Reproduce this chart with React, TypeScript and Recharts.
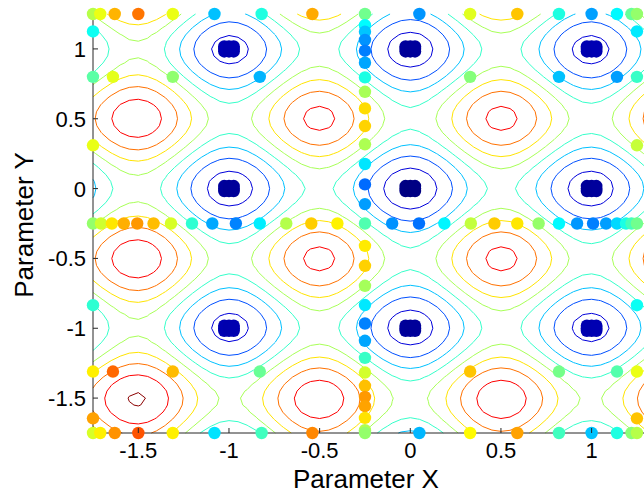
import { ComposedChart, Line, Scatter, XAxis, YAxis, Label } from 'recharts';

// axis set-up
const xDomain: [number, number] = [-1.75, 1.3];
const yDomain: [number, number] = [-1.75, 1.25];
const xTicks = [-1.5, -1, -0.5, 0, 0.5, 1];
const yTicks = [-1.5, -1, -0.5, 0, 0.5, 1];

// contour levels of the objective, and the colour scale (jet) limits
const contourLevels = [4, 9, 14, 19, 24, 29, 34, 39, 44];
const colourLimits = [0, 44.5];
const gridStep = 0.05;

const boundaryRowY = [1.25, -1.75];
const boundaryRowX = [-1.75, -1.71, -1.63, -1.5, -1.31, -1.08, -0.82, -0.54, 0.05, 0.33, 0.59, 0.82, 1.0, 1.14, 1.22, 1.25];
const middleRowY = [0.8, -1.31];
const middleRowX = [-1.75, -1.64, -1.31, -0.83, 0.33, 0.82, 1.14, 1.25];
const sideColX = [-1.75, 1.25];
const sideColY = [1.125, 0.31, -0.835, -1.645];
const centreLine = -0.25;
const centreRowX = [
  -1.75, -1.706, -1.646, -1.58, -1.506, -1.416, -1.32, -1.204, -1.092, -0.962, -0.83, -0.684, -0.546, -0.402,
  -0.1, 0.048, 0.188, 0.334, 0.464, 0.59, 0.708, 0.82, 0.92, 1.008, 1.08, 1.14, 1.19, 1.22, 1.25,
];
const centreColY = [
  1.25, 1.17, 1.123, 1.064, 0.987, 0.901, 0.796, 0.693, 0.574, 0.448, 0.317, 0.176, 0.03, -0.111, -0.25,
  -0.41, -0.553, -0.696, -0.834, -0.966, -1.09, -1.212, -1.317, -1.412, -1.491, -1.558, -1.642, -1.73, -1.75,
];
// converged points around the minima
const minimaX = [-1, 0, 1];
const minimaY = [-1, 0, 1];
const clusterDx = [-0.026, 0, 0.026];
const clusterDy = [-0.018, 0, 0.018];

// Rastrigin function
const objective = (x: number, y: number) =>
  20 + x * x + y * y - 10 * Math.cos(2 * Math.PI * x) - 10 * Math.cos(2 * Math.PI * y);

const jet = (v: number) => {
  const t = Math.min(1, Math.max(0, (v - colourLimits[0]) / (colourLimits[1] - colourLimits[0])));
  const c = (a: number) => Math.round(255 * Math.min(1, Math.max(0, a)));
  return `rgb(${c(Math.min(4 * t - 1.5, -4 * t + 4.5))},${c(Math.min(4 * t - 0.5, -4 * t + 3.5))},${c(
    Math.min(4 * t + 0.5, -4 * t + 2.5)
  )})`;
};

const round = (v: number) => Math.round(v * 1e6) / 1e6;
const gridX = Array.from({ length: Math.round((xDomain[1] - xDomain[0]) / gridStep) + 1 }, (_, i) =>
  round(xDomain[0] + i * gridStep)
);
const gridY = Array.from({ length: Math.round((yDomain[1] - yDomain[0]) / gridStep) + 1 }, (_, j) =>
  round(yDomain[0] + j * gridStep)
);
const gridZ = gridY.map((y) => gridX.map((x) => objective(x, y)));

type Pt = { x: number; y: number | null };

// marching squares, segments stitched into polylines
function contour(level: number): Pt[] {
  const pos = new Map<string, [number, number]>();
  const adj = new Map<string, string[]>();
  const cross = (key: string, xa: number, ya: number, va: number, xb: number, yb: number, vb: number) => {
    if (!pos.has(key)) {
      const t = (level - va) / (vb - va);
      pos.set(key, [xa + t * (xb - xa), ya + t * (yb - ya)]);
    }
    return key;
  };
  const link = (a: string, b: string) => {
    if (!adj.has(a)) adj.set(a, []);
    if (!adj.has(b)) adj.set(b, []);
    adj.get(a)!.push(b);
    adj.get(b)!.push(a);
  };

  for (let j = 0; j < gridY.length - 1; j++) {
    for (let i = 0; i < gridX.length - 1; i++) {
      const x0 = gridX[i], x1 = gridX[i + 1], y0 = gridY[j], y1 = gridY[j + 1];
      const v00 = gridZ[j][i], v10 = gridZ[j][i + 1], v01 = gridZ[j + 1][i], v11 = gridZ[j + 1][i + 1];
      const e: string[] = [];
      if (v00 > level !== v10 > level) e.push(cross(`h${i},${j}`, x0, y0, v00, x1, y0, v10));
      if (v10 > level !== v11 > level) e.push(cross(`v${i + 1},${j}`, x1, y0, v10, x1, y1, v11));
      if (v01 > level !== v11 > level) e.push(cross(`h${i},${j + 1}`, x0, y1, v01, x1, y1, v11));
      if (v00 > level !== v01 > level) e.push(cross(`v${i},${j}`, x0, y0, v00, x0, y1, v01));
      if (e.length === 2) link(e[0], e[1]);
      else if (e.length === 4) {
        const centre = (v00 + v10 + v01 + v11) / 4;
        if (centre > level === v00 > level) {
          link(e[0], e[1]);
          link(e[2], e[3]);
        } else {
          link(e[0], e[3]);
          link(e[1], e[2]);
        }
      }
    }
  }

  const next = (k: string) => {
    const l = adj.get(k);
    if (!l || l.length === 0) return null;
    const n = l.pop()!;
    const ln = adj.get(n)!;
    ln.splice(ln.indexOf(k), 1);
    return n;
  };
  const out: Pt[] = [];
  const walk = (start: string) => {
    let cur = start;
    let p = pos.get(cur)!;
    out.push({ x: p[0], y: p[1] });
    let n: string | null;
    while ((n = next(cur)) !== null) {
      p = pos.get(n)!;
      out.push({ x: p[0], y: p[1] });
      cur = n;
    }
    out.push({ x: p[0], y: null });
  };
  for (const [k, l] of adj) if (l.length === 1) walk(k);
  for (const [k, l] of adj) while (l.length > 0) walk(k);
  return out;
}

const contourSeries = contourLevels.map((level) => ({ level, colour: jet(level), data: contour(level) }));

const points = [
  ...boundaryRowY.flatMap((y) => boundaryRowX.map((x) => ({ x, y }))),
  ...middleRowY.flatMap((y) => middleRowX.map((x) => ({ x, y }))),
  ...sideColX.flatMap((x) => sideColY.map((y) => ({ x, y }))),
  ...centreRowX.map((x) => ({ x, y: centreLine })),
  ...centreColY.map((y) => ({ x: centreLine, y })),
  ...minimaX.flatMap((mx) =>
    minimaY.flatMap((my) => clusterDx.flatMap((dx) => clusterDy.map((dy) => ({ x: mx + dx, y: my + dy }))))
  ),
].map((p) => ({ ...p, fill: jet(objective(p.x, p.y)) }));

const FONT = '"Liberation Sans", Arial, Helvetica, sans-serif';
const AXIS_COLOUR = '#262626';

const XTick = (props: any) => {
  const { x, y, payload } = props;
  return (
    <g>
      <line x1={x} x2={x} y1={y} y2={y - 5} stroke={AXIS_COLOUR} />
      <text x={x} y={y + 25} textAnchor="middle" fontSize={22} fontFamily={FONT} fill="#000">
        {String(payload.value)}
      </text>
    </g>
  );
};

const YTick = (props: any) => {
  const { x, y, payload } = props;
  return (
    <g>
      <line x1={x} x2={x + 5} y1={y} y2={y} stroke={AXIS_COLOUR} />
      <text x={x - 7} y={y + 8} textAnchor="end" fontSize={22} fontFamily={FONT} fill="#000">
        {String(payload.value)}
      </text>
    </g>
  );
};

const Dot = (props: any) => <circle cx={props.cx} cy={props.cy} r={6.2} fill={props.payload.fill} />;

export default function App() {
  return (
    <div style={{ position: 'absolute', left: 0, top: 0, width: 644, height: 495, overflow: 'hidden', background: '#fff' }}>
      <ComposedChart width={646} height={495} margin={{ top: 14, right: 0, bottom: 0, left: 0 }}>
        <XAxis
          type="number"
          dataKey="x"
          domain={xDomain}
          ticks={xTicks}
          interval={0}
          height={62}
          tickSize={0}
          tickMargin={0}
          tickLine={false}
          axisLine={{ stroke: AXIS_COLOUR }}
          tick={<XTick />}
        >
          <Label
            content={() => (
              <text x={366} y={488} textAnchor="middle" fontSize={26} fontFamily={FONT} fill="#000">
                Parameter X
              </text>
            )}
          />
        </XAxis>
        <YAxis
          type="number"
          dataKey="y"
          domain={yDomain}
          ticks={yTicks}
          interval={0}
          width={93}
          tickSize={0}
          tickMargin={0}
          tickLine={false}
          axisLine={{ stroke: AXIS_COLOUR }}
          tick={<YTick />}
        >
          <Label
            content={() => (
              <text
                x={33}
                y={225}
                transform="rotate(-90 33 225)"
                textAnchor="middle"
                fontSize={26}
                fontFamily={FONT}
                fill="#000"
              >
                Parameter Y
              </text>
            )}
          />
        </YAxis>
        {contourSeries.map((s) => (
          <Line
            key={s.level}
            data={s.data}
            dataKey="y"
            type="linear"
            stroke={s.colour}
            strokeWidth={1}
            dot={false}
            activeDot={false}
            connectNulls={false}
            isAnimationActive={false}
            legendType="none"
          />
        ))}
        <Scatter data={points} dataKey="y" shape={<Dot />} isAnimationActive={false} legendType="none" />
      </ComposedChart>
    </div>
  );
}
